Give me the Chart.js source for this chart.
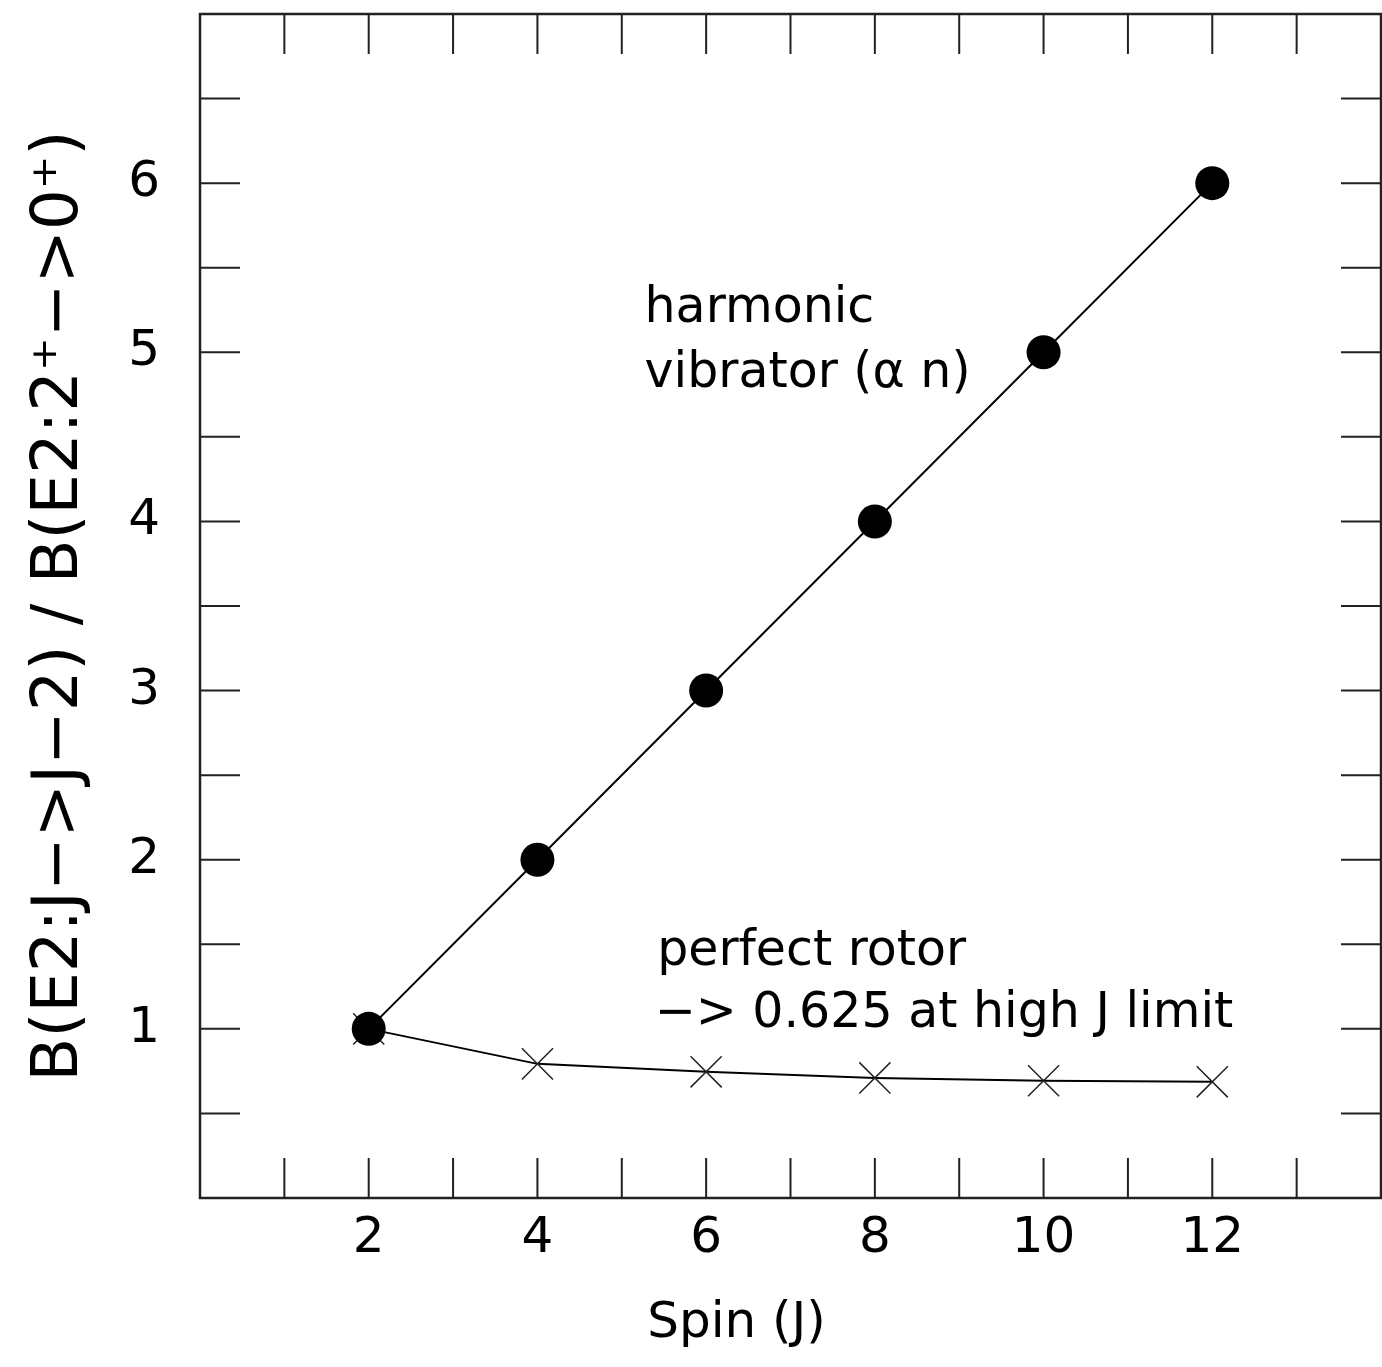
<!DOCTYPE html>
<html>
<head>
<meta charset="utf-8">
<script src="https://cdn.jsdelivr.net/npm/chart.js@4"></script>
<style>
    html, body { margin: 0; padding: 0; background: #fff; }
    #wrap { width: 1382px; height: 1367px; }
</style>
</head>
<body>
<div id="wrap"><canvas id="ratioChart"></canvas></div>
<script>
const spins = [2, 4, 6, 8, 10, 12];
const vibratorRatio = [1, 2, 3, 4, 5, 6];
const rotorRatio = [1, 0.793, 0.746, 0.710, 0.693, 0.687];

const xTickLabels = [2, 4, 6, 8, 10, 12];
const yTickLabels = [1, 2, 3, 4, 5, 6];

const xTitle = 'Spin (J)';
const yTitle = 'B(E2:J\u2212>J\u22122) / B(E2:2\u207A\u2212>0\u207A)';
const vibratorNote = ['harmonic', 'vibrator (\u03B1 n)'];
const rotorNote = ['perfect rotor', '\u2212> 0.625 at high J limit'];

const FONT = "'DejaVu Sans', 'Liberation Sans', sans-serif";
const INK = '#000';

function toPoints(xs, ys) {
    return xs.map((x, i) => ({ x: x, y: ys[i] }));
}

const frameAndText = {
    id: 'frameAndText',
    afterDraw(chart) {
        const { ctx, chartArea: a, scales: { x, y } } = chart;
        const tickLen = 40;
        ctx.save();

        // inward ticks on all four sides
        ctx.strokeStyle = '#222';
        ctx.lineWidth = 2;
        ctx.beginPath();
        x.ticks.forEach(t => {
            const px = x.getPixelForValue(t.value);
            ctx.moveTo(px, a.bottom); ctx.lineTo(px, a.bottom - tickLen);
            ctx.moveTo(px, a.top); ctx.lineTo(px, a.top + tickLen);
        });
        y.ticks.forEach(t => {
            const py = y.getPixelForValue(t.value);
            ctx.moveTo(a.left, py); ctx.lineTo(a.left + tickLen, py);
            ctx.moveTo(a.right, py); ctx.lineTo(a.right - tickLen, py);
        });
        ctx.stroke();

        ctx.lineWidth = 2.5;
        ctx.strokeRect(a.left, a.top, a.right - a.left, a.bottom - a.top);

        ctx.fillStyle = INK;
        ctx.textAlign = 'left';
        ctx.textBaseline = 'alphabetic';
        ctx.font = `49px ${FONT}`;
        ctx.fillText(vibratorNote[0], x.getPixelForValue(5.27), y.getPixelForValue(5.18));
        ctx.fillText(vibratorNote[1], x.getPixelForValue(5.27), y.getPixelForValue(4.795));
        ctx.fillText(rotorNote[0], x.getPixelForValue(5.42), y.getPixelForValue(1.377));
        ctx.fillText(rotorNote[1], x.getPixelForValue(5.39), y.getPixelForValue(1.011));

        ctx.textAlign = 'center';
        ctx.font = `50px ${FONT}`;
        ctx.fillText(xTitle, x.getPixelForValue(6.36), chart.height - 30);

        ctx.font = `64px ${FONT}`;
        ctx.textBaseline = 'middle';
        ctx.translate(60, (a.top + a.bottom) / 2);
        ctx.rotate(-Math.PI / 2);
        ctx.fillText(yTitle, 0, 0);

        ctx.restore();
    }
};

const ctx = document.getElementById('ratioChart').getContext('2d');

new Chart(ctx, {
    type: 'scatter',
    data: {
        datasets: [
            {
                label: 'harmonic vibrator',
                data: toPoints(spins, vibratorRatio),
                showLine: true,
                borderColor: INK,
                borderWidth: 2,
                backgroundColor: INK,
                pointStyle: 'circle',
                pointRadius: 17,
                pointBorderWidth: 0,
                tension: 0
            },
            {
                label: 'perfect rotor',
                data: toPoints(spins, rotorRatio),
                showLine: true,
                borderColor: INK,
                borderWidth: 2,
                backgroundColor: INK,
                pointStyle: 'crossRot',
                pointRadius: 22,
                pointBorderColor: '#222',
                pointBorderWidth: 1.5,
                tension: 0
            }
        ]
    },
    options: {
        responsive: true,
        maintainAspectRatio: false,
        animation: false,
        layout: {
            autoPadding: false,
            padding: { top: 14, right: 1, left: 0, bottom: 0 }
        },
        plugins: {
            legend: { display: false },
            tooltip: { enabled: false }
        },
        scales: {
            x: {
                type: 'linear',
                min: 0,
                max: 14,
                afterFit(scale) {
                    scale.height = 169;
                    scale.paddingLeft = 0;
                    scale.paddingRight = 0;
                },
                grid: { display: false, drawTicks: false },
                border: { display: false },
                ticks: {
                    stepSize: 1,
                    autoSkip: false,
                    maxRotation: 0,
                    padding: 11,
                    color: INK,
                    font: { family: FONT, size: 50 },
                    callback: v => xTickLabels.includes(v) ? String(v) : ''
                }
            },
            y: {
                type: 'linear',
                min: 0,
                max: 7,
                afterFit(scale) {
                    scale.width = 200;
                    scale.paddingTop = 0;
                    scale.paddingBottom = 0;
                },
                grid: { display: false, drawTicks: false },
                border: { display: false },
                ticks: {
                    stepSize: 0.5,
                    autoSkip: false,
                    padding: 40,
                    color: INK,
                    font: { family: FONT, size: 50 },
                    callback: v => yTickLabels.includes(v) ? String(v) : ''
                }
            }
        }
    },
    plugins: [frameAndText]
});
</script>
</body>
</html>
